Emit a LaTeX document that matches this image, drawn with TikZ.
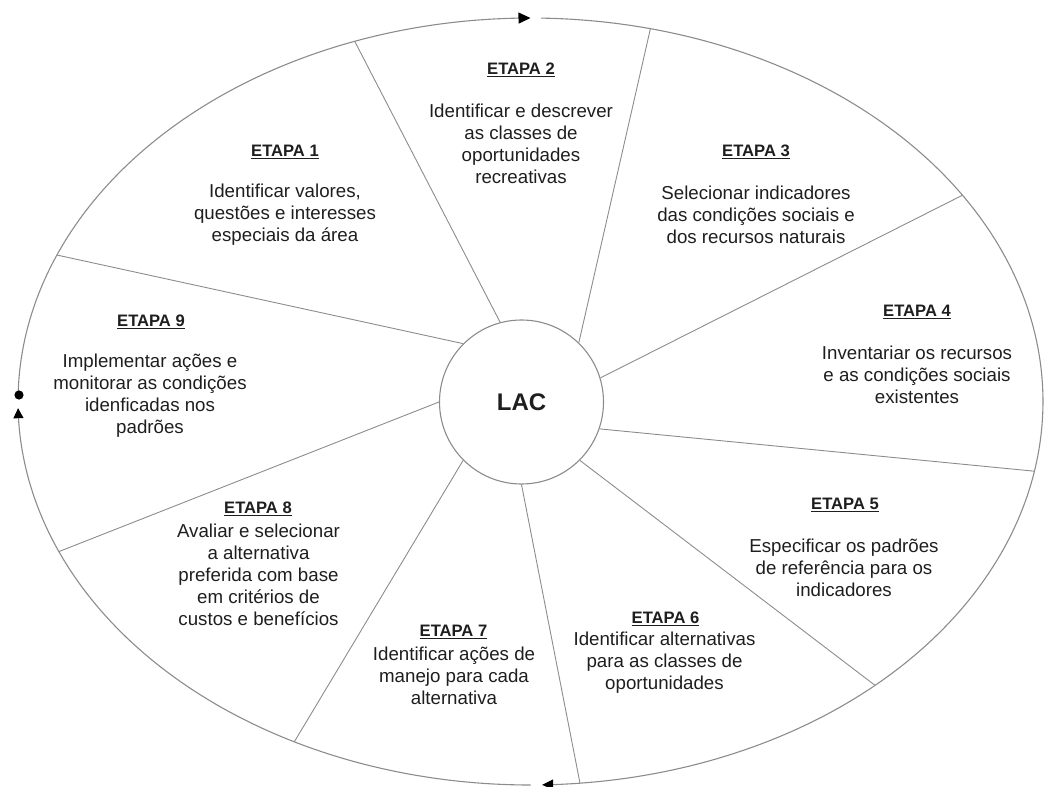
\documentclass[tikz,border=0pt]{standalone}
\usepackage{fontspec}
\setmainfont{Liberation Sans}
\usetikzlibrary{arrows.meta}
\definecolor{linegray}{RGB}{140,140,140}
\definecolor{txt}{RGB}{30,30,30}
\begin{document}
\begin{tikzpicture}[x=1pt,y=-1pt,
  rim/.style={draw=linegray,line width=1.1pt},
  spoke/.style={draw=linegray,line width=0.9pt},
  title/.style={font=\fontsize{16.6}{20}\selectfont\bfseries,text=txt,inner sep=0pt},
  body/.style={font=\fontsize{18.7}{22}\selectfont,text=txt,align=center,inner sep=0pt}
]
\useasboundingbox (0,0) rectangle (1045,787);

% outer spoke ends (on the ring)
\coordinate (o12) at (354.7,41.3);
\coordinate (o23) at (650.4,28.7);
\coordinate (o34) at (962.5,195.2);
\coordinate (o45) at (1034.4,471.2);
\coordinate (o56) at (875.1,685.4);
\coordinate (o67) at (580,783.2);
\coordinate (o78) at (294.3,741.8);
\coordinate (o89) at (58.9,551.6);
\coordinate (o91) at (56.8,255);

% outer ring in three arcs
\draw[rim,-{Triangle[length=12pt,width=11pt,color=black]}]
  plot[domain=181.5:270,samples=90] ({530.5+512.5*cos(\x)},{401.5+383.5*sin(\x)});
\draw[rim,-{Triangle[length=11pt,width=10pt,color=black]}]
  plot[domain=271.2:448.7,samples=170] ({530.5+512.5*cos(\x)},{401.5+383.5*sin(\x)});
\draw[rim,-{Triangle[length=10pt,width=10pt,color=black]}]
  plot[domain=90:179,samples=90] ({530.5+512.5*cos(\x)},{401.5+383.5*sin(\x)});
\fill[black] (19,395) circle (4.6pt);

% centre
\node[circle,draw=linegray,line width=1.1pt,fill=white,minimum size=164pt,inner sep=0pt,
      font=\fontsize{24}{28}\selectfont\bfseries,text=txt] (lac) at (521.5,402) {LAC};

% spokes
\draw[spoke] (lac.105) -- (o12);
\draw[spoke] (lac.46) -- (o23);
\draw[spoke] (lac.17) -- (o34);
\draw[spoke] (lac.-19) -- (o45);
\draw[spoke] (lac.-45) -- (o56);
\draw[spoke] (lac.-90) -- (o67);
\draw[spoke] (lac.-135) -- (o78);
\draw[spoke] (lac.180) -- (o89);
\draw[spoke] (lac.135) -- (o91);

% stage texts
\node[title] (t1) at (285,152) {\underline{ETAPA 1}};
\node[body] (b1) at (285,214.5) {Identificar valores,\\questões e interesses\\especiais da área};

\node[title] (t2) at (521,70) {\underline{ETAPA 2}};
\node[body] (b2) at (521,144) {Identificar e descrever\\as classes de\\oportunidades\\recreativas};

\node[title] (t3) at (756,152) {\underline{ETAPA 3}};
\node[body] (b3) at (756,214.5) {Selecionar indicadores\\das condições sociais e\\dos recursos naturais};

\node[title] (t4) at (917,312) {\underline{ETAPA 4}};
\node[body] (b4) at (917,374.5) {Inventariar os recursos\\e as condições sociais\\existentes};

\node[title] (t5) at (845,505) {\underline{ETAPA 5}};
\node[body] (b5) at (844,568) {Especificar os padrões\\de referência para os\\indicadores};

\node[title] (t6) at (665.5,619) {\underline{ETAPA 6}};
\node[body] (b6) at (664.5,663) {Identificar alternativas\\para as classes de\\oportunidades};

\node[title] (t7) at (453.5,632) {\underline{ETAPA 7}};
\node[body] (b7) at (454,676) {Identificar ações de\\manejo para cada\\alternativa};

\node[title] (t8) at (258,509) {\underline{ETAPA 8}};
\node[body] (b8) at (258.5,575) {Avaliar e selecionar\\a alternativa\\preferida com base\\em critérios de\\custos e benefícios};

\node[title] (t9) at (151,322) {\underline{ETAPA 9}};
\node[body] (b9) at (150,396) {Implementar ações e\\monitorar as condições\\idenficadas nos\\padrões};
\end{tikzpicture}
\end{document}
